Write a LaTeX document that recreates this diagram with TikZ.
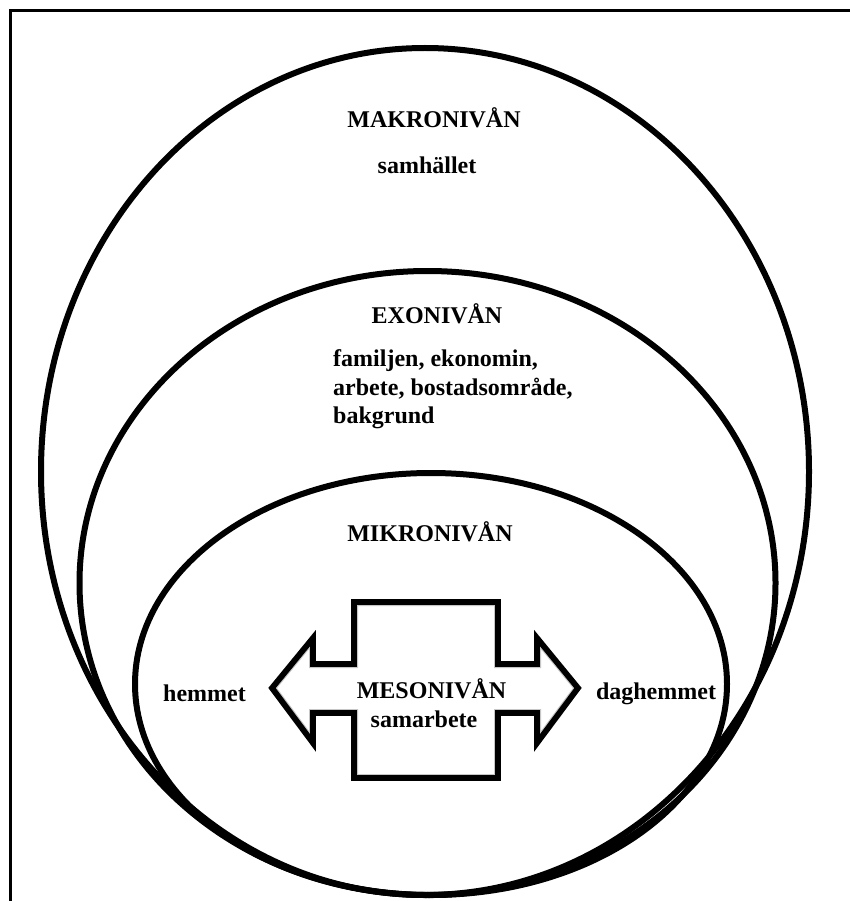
\documentclass[tikz,border=0pt]{standalone}
\usepackage{fontspec}
\setmainfont{Liberation Serif}
\begin{document}
\begin{tikzpicture}[x=1pt,y=-1pt,
  ring/.style={draw=black,line width=6pt},
  lbl/.style={inner sep=0pt,anchor=base,font=\fontsize{24}{28.5}\selectfont\bfseries},
  lblw/.style={inner sep=0pt,anchor=base west,font=\fontsize{24}{28.5}\selectfont\bfseries},
  frame/.style={draw=black,line width=3pt},
  arrowshape/.style={draw=black,line width=5.8pt,line join=miter,miter limit=10}]
\useasboundingbox (0,0) rectangle (849,901);
\fill[white] (0,0) rectangle (849,901);
% frame
\coordinate (fbl) at (10,905);
\coordinate (ftl) at (10,11);
\coordinate (ftr) at (852,11);
\draw[frame] (fbl) -- (ftl) -- (ftr);
% ellipses
\draw[ring] (425,471.5) ellipse [x radius=384, y radius=423.5];
\draw[ring] (427.5,583) ellipse [x radius=348, y radius=312];
\draw[ring] (431,684) ellipse [x radius=296, y radius=211];
% labels
\node[lbl] (makro) at (434,128) {MAKRONIVÅN};
\node[lbl] (samh) at (427,174) {samhället};
\node[lbl] (exo) at (437,323) {EXONIVÅN};
\node[lblw] (ex1) at (333,366) {familjen, ekonomin,};
\node[lblw] (ex2) at (333,395) {arbete, bostadsområde,};
\node[lblw] (ex3) at (333,423) {bakgrund};
\node[lbl] (mikro) at (430,541) {MIKRONIVÅN};
\node[lbl] (hem) at (204.5,701) {hemmet};
\node[lbl] (dag) at (656,699) {daghemmet};
% double arrow / cross shape
\def\arrowpath{(354,602) -- (498,602) -- (498,664) -- (537,664) -- (537,638) -- (578,688) -- (537,743) -- (537,713) -- (498,713) -- (498,778) -- (354,778) -- (354,713) -- (313,713) -- (313,743) -- (272,688) -- (313,638) -- (313,664) -- (354,664) -- cycle}
\begin{scope}
  \clip \arrowpath;
  \draw[gray!45,line width=8pt] \arrowpath;
\end{scope}
\draw[arrowshape] \arrowpath;
\node[lbl] (meso) at (431.5,698) {MESONIVÅN};
\node[lbl] (samarb) at (424,727) {samarbete};
\end{tikzpicture}
\end{document}
